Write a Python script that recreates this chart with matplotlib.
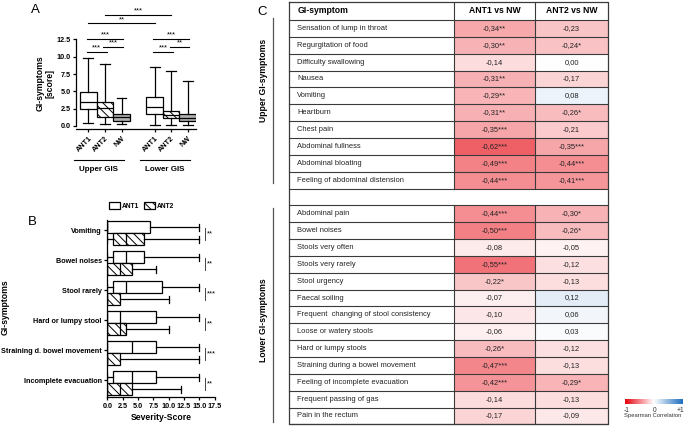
# %% LIBRARY
import matplotlib
matplotlib.use("Agg")
import matplotlib.pyplot as plt
from matplotlib.colors import LinearSegmentedColormap, Normalize
from matplotlib.cm import ScalarMappable
from matplotlib.patches import Rectangle, Patch
import matplotlib.transforms as mtransforms

plt.rcParams['font.family'] = ['Liberation Sans', 'DejaVu Sans']
plt.rcParams['hatch.linewidth'] = 0.7

# %% DATA - panel A (box stats per group: ANT1, ANT2, NW)
a_labels = ['ANT1', 'ANT2', 'NW']
a_groups = ['Upper GIS', 'Lower GIS']
a_upper_low = [0.5, 0.25, 0.25]
a_upper_q1 = [2.45, 1.25, 0.7]
a_upper_med = [3.4, 2.6, 1.25]
a_upper_q3 = [4.95, 3.5, 1.8]
a_upper_high = [9.75, 9.0, 4.0]
a_lower_low = [0.15, 0.1, 0.15]
a_lower_q1 = [1.7, 1.1, 0.7]
a_lower_med = [2.8, 1.6, 1.2]
a_lower_q3 = [4.2, 2.2, 1.8]
a_lower_high = [8.55, 8.0, 6.5]
# within-group comparisons (i, j, stars) and between-group (box index, stars)
a_pairs_upper = [(0, 1, '***'), (1, 2, '***'), (0, 2, '***')]
a_pairs_lower = [(0, 1, '***'), (1, 2, '**'), (0, 2, '***')]
a_between = [(0, '**'), (1, '***')]

# %% DATA - panel B
b_symptoms = ['Vomiting', 'Bowel noises', 'Stool rarely', 'Hard or lumpy stool',
              'Straining d. bowel movement', 'Incomplete evacuation']
b_ant1_low = [0, 0, 0, 0, 0, 0]
b_ant1_q1 = [0, 1, 1, 0, 0, 1]
b_ant1_med = [0, 3, 3, 2, 4, 4]
b_ant1_q3 = [7, 6, 9, 8, 8, 8]
b_ant1_high = [15, 15, 15, 15, 15, 15]
b_ant2_low = [0, 0, 0, 0, 0, 0]
b_ant2_q1 = [1, 0, 0, 0, 0, 0]
b_ant2_med = [3, 2, 0, 2, 0, 2]
b_ant2_q3 = [6, 4, 2, 3, 2, 4]
b_ant2_high = [15, 8, 10, 10, 15, 12]
b_stars = ['**', '**', '***', '**', '***', '**']

# %% DATA - panel C
c_upper = ['Sensation of lump in throat', 'Regurgitation of food', 'Difficulty swallowing',
           'Nausea', 'Vomiting', 'Heartburn', 'Chest pain', 'Abdominal fullness',
           'Abdominal bloating', 'Feeling of abdominal distension']
c_upper_ant1 = [-0.34, -0.30, -0.14, -0.31, -0.29, -0.31, -0.35, -0.62, -0.49, -0.44]
c_upper_ant1_sig = ['**', '**', '', '**', '**', '**', '***', '***', '***', '***']
c_upper_ant2 = [-0.23, -0.24, 0.00, -0.17, 0.08, -0.26, -0.21, -0.35, -0.44, -0.41]
c_upper_ant2_sig = ['', '*', '', '', '', '*', '', '***', '***', '***']
c_lower = ['Abdominal pain', 'Bowel noises', 'Stools very often', 'Stools very rarely',
           'Stool urgency', 'Faecal soiling', 'Frequent  changing of stool consistency',
           'Loose or watery stools', 'Hard or lumpy stools', 'Straining during a bowel movement',
           'Feeling of incomplete evacuation', 'Frequent passing of gas', 'Pain in the rectum']
c_lower_ant1 = [-0.44, -0.50, -0.08, -0.55, -0.22, -0.07, -0.10, -0.06, -0.26, -0.47, -0.42, -0.14, -0.17]
c_lower_ant1_sig = ['***', '***', '', '***', '*', '', '', '', '*', '***', '***', '', '']
c_lower_ant2 = [-0.30, -0.26, -0.05, -0.12, -0.13, 0.12, 0.06, 0.03, -0.12, -0.13, -0.29, -0.13, -0.09]
c_lower_ant2_sig = ['*', '*', '', '', '', '', '', '', '', '', '*', '', '']
c_headers = ['GI-symptom', 'ANT1 vs NW', 'ANT2 vs NW']

# %% FIGURE
W, H = 685, 426
fig = plt.figure(figsize=(W / 100, H / 100), dpi=100)

def px_axes(x0, y0, x1, y1, **kw):
    # axes from pixel box (top-left origin)
    return fig.add_axes([x0 / W, 1 - y1 / H, (x1 - x0) / W, (y1 - y0) / H], **kw)

def box_stats(low, q1, med, q3, high):
    return [dict(whislo=l, q1=a, med=m, q3=b, whishi=h, fliers=[])
            for l, a, m, b, h in zip(low, q1, med, q3, high)]

line_kw = dict(lw=0.9, color='k')
hatch = '\\\\\\\\'

# %% PANEL C (table, drawn in pixel space)
axC = px_axes(0, 0, W, H)
axC.set_xlim(0, W)
axC.set_ylim(H, 0)
axC.axis('off')

cmap = LinearSegmentedColormap.from_list('corr', [(0.0, '#e6000a'), (0.5, '#ffffff'), (1.0, '#1e6ebe')])
norm = Normalize(-1, 1)

cx = [289.3, 454.3, 535, 608.3]
head_top, head_bot = 1.7, 20
rh = 16.85
edge = '#3a3a3a'
txt = '#222222'

rows = []
for name, v1, s1, v2, s2 in zip(c_upper, c_upper_ant1, c_upper_ant1_sig, c_upper_ant2, c_upper_ant2_sig):
    rows.append((name, v1, s1, v2, s2))
rows.append(None)  # blank separator row
for name, v1, s1, v2, s2 in zip(c_lower, c_lower_ant1, c_lower_ant1_sig, c_lower_ant2, c_lower_ant2_sig):
    rows.append((name, v1, s1, v2, s2))

def fmt(v, s):
    return f"{v:.2f}".replace('.', ',') + s

for k, r in enumerate(rows):
    y0 = head_bot + k * rh
    if r is not None:
        name, v1, s1, v2, s2 = r
        for j, v in enumerate([v1, v2]):
            axC.add_patch(Rectangle((cx[j + 1], y0), cx[j + 2] - cx[j + 1], rh,
                                    facecolor=cmap(norm(v)), edgecolor='none'))
        axC.text(cx[0] + 8, y0 + rh / 2, name, fontsize=5.4, va='center', ha='left', color=txt)
        axC.text((cx[1] + cx[2]) / 2, y0 + rh / 2, fmt(v1, s1), fontsize=5.4, va='center', ha='center', color=txt)
        axC.text((cx[2] + cx[3]) / 2, y0 + rh / 2, fmt(v2, s2), fontsize=5.4, va='center', ha='center', color=txt)
        for xx in cx[1:3]:
            axC.plot([xx, xx], [y0, y0 + rh], color=edge, lw=0.8)
    axC.plot([cx[0], cx[3]], [y0 + rh, y0 + rh], color=edge, lw=0.8)

bottom = head_bot + len(rows) * rh
axC.plot([cx[0], cx[3], cx[3], cx[0], cx[0]], [head_top, head_top, bottom, bottom, head_top], color=edge, lw=0.9)
axC.plot([cx[0], cx[3]], [head_bot, head_bot], color=edge, lw=0.8)
for xx in cx[1:3]:
    axC.plot([xx, xx], [head_top, head_bot], color=edge, lw=0.8)
axC.text(cx[0] + 8, (head_top + head_bot) / 2, c_headers[0], fontsize=6.2, fontweight='bold', va='center')
axC.text((cx[1] + cx[2]) / 2, (head_top + head_bot) / 2, c_headers[1], fontsize=6.2, fontweight='bold', va='center', ha='center')
axC.text((cx[2] + cx[3]) / 2, (head_top + head_bot) / 2, c_headers[2], fontsize=6.2, fontweight='bold', va='center', ha='center')

# side brackets
up_end = head_bot + len(c_upper) * rh
lo_start = up_end + rh
axC.plot([272.7, 272.7], [head_bot - 2, up_end - 6], color='#555555', lw=0.9)
axC.plot([272.7, 272.7], [lo_start + 3, bottom - 2], color='#555555', lw=0.9)
axC.text(263.3, 80, 'Upper GI-symptoms', rotation=90, fontsize=6.2, fontweight='bold', ha='center', va='center')
axC.text(263.3, 320, 'Lower GI-symptoms', rotation=90, fontsize=6.2, fontweight='bold', ha='center', va='center')

# colorbar
cax = px_axes(625, 399.3, 682.7, 404.3)
cb = fig.colorbar(ScalarMappable(norm=norm, cmap=cmap), cax=cax, orientation='horizontal', ticks=[])
cb.outline.set_visible(False)
axC.text(627, 410, '-1', fontsize=4.8, ha='center', va='center', color='#333333')
axC.text(654.3, 410, '0', fontsize=4.8, ha='center', va='center', color='#333333')
axC.text(680, 410, '+1', fontsize=4.8, ha='center', va='center', color='#333333')
axC.text(653, 415, 'Spearman Correlation', fontsize=4.2, ha='center', va='center', color='#333333')

# %% PANEL A
axA = px_axes(76, 38, 196, 129.1)
pos_up, pos_lo = [1, 2, 3], [5, 6, 7]
fills = ['white', 'white', '#b0b0b0']
hatches = ['', hatch, '']
for st, pos in [(box_stats(a_upper_low, a_upper_q1, a_upper_med, a_upper_q3, a_upper_high), pos_up),
                (box_stats(a_lower_low, a_lower_q1, a_lower_med, a_lower_q3, a_lower_high), pos_lo)]:
    bp = axA.bxp(st, positions=pos, widths=1.0, patch_artist=True, showfliers=False, capwidths=0.6,
                 boxprops=dict(lw=0.9, edgecolor='k'), whiskerprops=line_kw, capprops=line_kw,
                 medianprops=line_kw)
    for patch, fc, h in zip(bp['boxes'], fills, hatches):
        patch.set_facecolor(fc)
        patch.set_hatch(h)

axA.set_xlim(0.25, 7.5)
axA.set_ylim(-0.45, 12.7)
for s in ['top', 'right']:
    axA.spines[s].set_visible(False)
axA.spines['left'].set_bounds(0, 12.5)
for s in ['left', 'bottom']:
    axA.spines[s].set_linewidth(0.9)
axA.set_yticks([0, 2.5, 5, 7.5, 10, 12.5])
axA.set_yticklabels(['0.0', '2.5', '5.0', '7.5', '10.0', '12.5'], fontsize=5.2, fontweight='bold')
axA.set_xticks(pos_up + pos_lo)
axA.set_xticklabels(a_labels * 2, fontsize=5.2, fontweight='bold', rotation=45, ha='right',
                    rotation_mode='anchor')
axA.tick_params(width=0.9, length=2.5, pad=1.5)
axA.set_ylabel('GI-symptoms\n[score]', fontsize=6.2, fontweight='bold', labelpad=1, linespacing=1.1)

# significance bars
levels = [10.7, 11.4, 12.6]
for pairs, pos in [(a_pairs_upper, pos_up), (a_pairs_lower, pos_lo)]:
    for (i, j, s), yl in zip(pairs, levels):
        axA.plot([pos[i] - 0.1, pos[j] + 0.1], [yl, yl], color='k', lw=0.8, clip_on=False)
        axA.text((pos[i] + pos[j]) / 2, yl + 0.05, s, fontsize=5.5, ha='center', va='bottom', clip_on=False)
for (i, s), yl in zip(a_between, [14.8, 16.0]):
    axA.plot([pos_up[i], pos_lo[i]], [yl, yl], color='k', lw=0.8, clip_on=False)
    axA.text((pos_up[i] + pos_lo[i]) / 2, yl + 0.05, s, fontsize=5.5, ha='center', va='bottom', clip_on=False)

# group underlines
trA = mtransforms.blended_transform_factory(axA.transData, axA.transAxes)
for g, pos in zip(a_groups, [pos_up, pos_lo]):
    axA.plot([pos[0] - 0.9, pos[-1] + 0.15], [-0.34, -0.34], color='k', lw=0.8, transform=trA, clip_on=False)
    axA.text((pos[0] + pos[-1]) / 2 - 0.4, -0.40, g, fontsize=5.8, fontweight='bold', ha='center', va='top',
             transform=trA)

# %% PANEL B
axB = px_axes(107.3, 220, 214.6, 397.3)
n = len(b_symptoms)
pos1 = [3 * i + 0.7 for i in range(n)]
pos2 = [3 * i + 1.9 for i in range(n)]
for st, pos, h in [(box_stats(b_ant1_low, b_ant1_q1, b_ant1_med, b_ant1_q3, b_ant1_high), pos1, ''),
                   (box_stats(b_ant2_low, b_ant2_q1, b_ant2_med, b_ant2_q3, b_ant2_high), pos2, hatch)]:
    bp = axB.bxp(st, positions=pos, widths=1.2, patch_artist=True, showfliers=False, capwidths=0.7,
                 orientation='horizontal',
                 boxprops=dict(lw=0.9, edgecolor='k', facecolor='white'), whiskerprops=line_kw,
                 capprops=line_kw, medianprops=line_kw)
    for patch in bp['boxes']:
        patch.set_hatch(h)

axB.set_ylim(17.7, 0)
axB.set_xlim(0, 17.5)
for s in ['top', 'right']:
    axB.spines[s].set_visible(False)
for s in ['left', 'bottom']:
    axB.spines[s].set_linewidth(0.9)
axB.set_xticks([0, 2.5, 5, 7.5, 10, 12.5, 15, 17.5])
axB.set_xticklabels(['0.0', '2.5', '5.0', '7.5', '10.0', '12.5', '15.0', '17.5'], fontsize=5.2, fontweight='bold')
axB.set_yticks([3 * i + 1.0 for i in range(n)])
axB.set_yticklabels(b_symptoms, fontsize=5.2, fontweight='bold')
axB.tick_params(width=0.9, length=2.5, pad=1.5)
axB.set_xlabel('Severity-Score', fontsize=6.2, fontweight='bold', labelpad=2)

for i, s in enumerate(b_stars):
    axB.plot([15.9, 15.9], [pos1[i] + 0.1, pos2[i] + 0.1], color='#444444', lw=0.7, clip_on=False)
    axB.text(16.2, (pos1[i] + pos2[i]) / 2 + 0.1, s, fontsize=5.5, ha='left', va='center', clip_on=False)

axB.legend(handles=[Patch(facecolor='white', edgecolor='k', lw=0.9, label='ANT1'),
                    Patch(facecolor='white', edgecolor='k', lw=0.9, hatch=hatch, label='ANT2')],
           loc='center', bbox_to_anchor=(0.32, 1.08), ncol=2, frameon=False,
           handlelength=1.6, handleheight=1.2, handletextpad=0.3, columnspacing=0.8,
           prop=dict(weight='bold', size=4.8))

fig.text(5 / W, 1 - 307 / H, 'GI-symptoms', rotation=90, fontsize=6.2, fontweight='bold', ha='center', va='center')

# %% PANEL LABELS
fig.text(35 / W, 1 - 10 / H, 'A', fontsize=9.5, ha='center', va='center')
fig.text(32 / W, 1 - 222 / H, 'B', fontsize=9.5, ha='center', va='center')
fig.text(262 / W, 1 - 12 / H, 'C', fontsize=9.5, ha='center', va='center')

fig.savefig('out.png', dpi=100)
